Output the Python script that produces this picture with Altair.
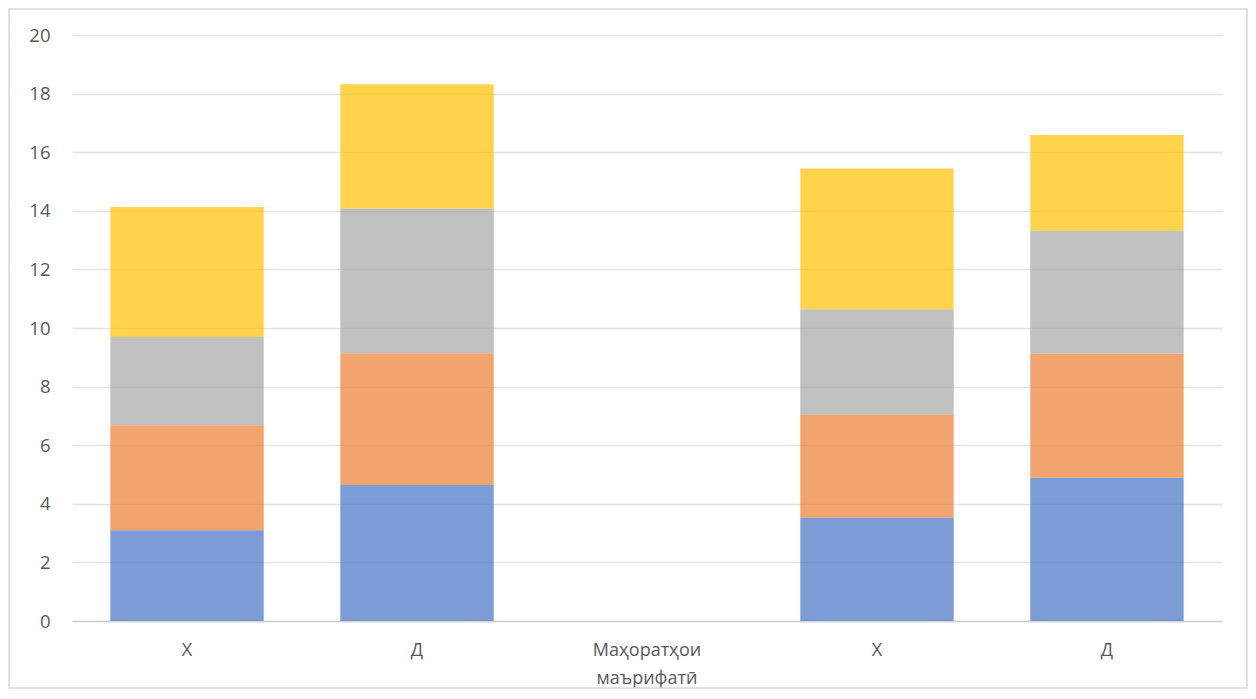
import json
import altair as alt
import pandas as pd

# categories along x (duplicated names, so positional keys are used)
categories = ["Х", "Д", "Маҳоратҳои маърифатӣ", "Х", "Д"]
series = ["s1", "s2", "s3", "s4"]
s1 = [3.10, 4.64, None, 3.53, 4.89]
s2 = [3.58, 4.50, None, 3.52, 4.24]
s3 = [3.01, 4.94, None, 3.59, 4.19]
s4 = [4.44, 4.24, None, 4.80, 3.27]
colors = ["#4472C4", "#ED7D31", "#A5A5A5", "#FFC000"]
y_ticks = [0, 2, 4, 6, 8, 10, 12, 14, 16, 18, 20]

rows = []
for si, (name, vals) in enumerate(zip(series, [s1, s2, s3, s4])):
    for ci, v in enumerate(vals):
        if v is not None:
            rows.append({"key": str(ci), "series": name, "order": si, "value": v})
df = pd.DataFrame(rows)

keys = [str(i) for i in range(len(categories))]
label_arr = [c.split(" ") if " " in c else c for c in categories]
label_expr = json.dumps(label_arr, ensure_ascii=False) + "[toNumber(datum.value)]"

W, H = 1150, 586
PL, PT, PR, PB = 64, 27, 26, 68

bars = alt.Chart(df).mark_bar(opacity=0.7).encode(
    x=alt.X("key:N", scale=alt.Scale(domain=keys, paddingInner=0.333, paddingOuter=0.1667),
            axis=alt.Axis(title=None, labelExpr=label_expr, labelAngle=0, ticks=False,
                          domainColor="#d0d0d0", domainWidth=1.3, labelPadding=20,
                          labelFont="Open Sans", labelFontSize=18, labelColor="#595959",
                          labelLineHeight=28, grid=False)),
    y=alt.Y("value:Q", stack="zero", scale=alt.Scale(domain=[0, 20], nice=False),
            axis=alt.Axis(title=None, values=y_ticks, ticks=False, domain=False,
                          gridColor="#e3e3e3", gridWidth=1.3, labelPadding=22,
                          labelFont="Open Sans", labelFontSize=18.5, labelColor="#595959")),
    color=alt.Color("series:N", scale=alt.Scale(domain=series, range=colors), legend=None),
    order=alt.Order("order:Q"),
)

frame = alt.Chart(pd.DataFrame({"a": [0]})).mark_rect(
    fill=None, stroke="#d9d9d9", strokeWidth=1.5, clip=False
).encode(
    x=alt.value(-PL + 1), x2=alt.value(W + PR - 1),
    y=alt.value(-PT + 1), y2=alt.value(H + PB - 1),
)

chart = alt.layer(frame, bars).properties(
    width=W, height=H,
    autosize=alt.AutoSizeParams(type="none"),
    padding={"left": PL, "top": PT, "right": PR, "bottom": PB},
).configure(background="white", view=alt.ViewConfig(stroke=None))

chart.save("out.html", embed_options={"renderer": "svg", "actions": False})
